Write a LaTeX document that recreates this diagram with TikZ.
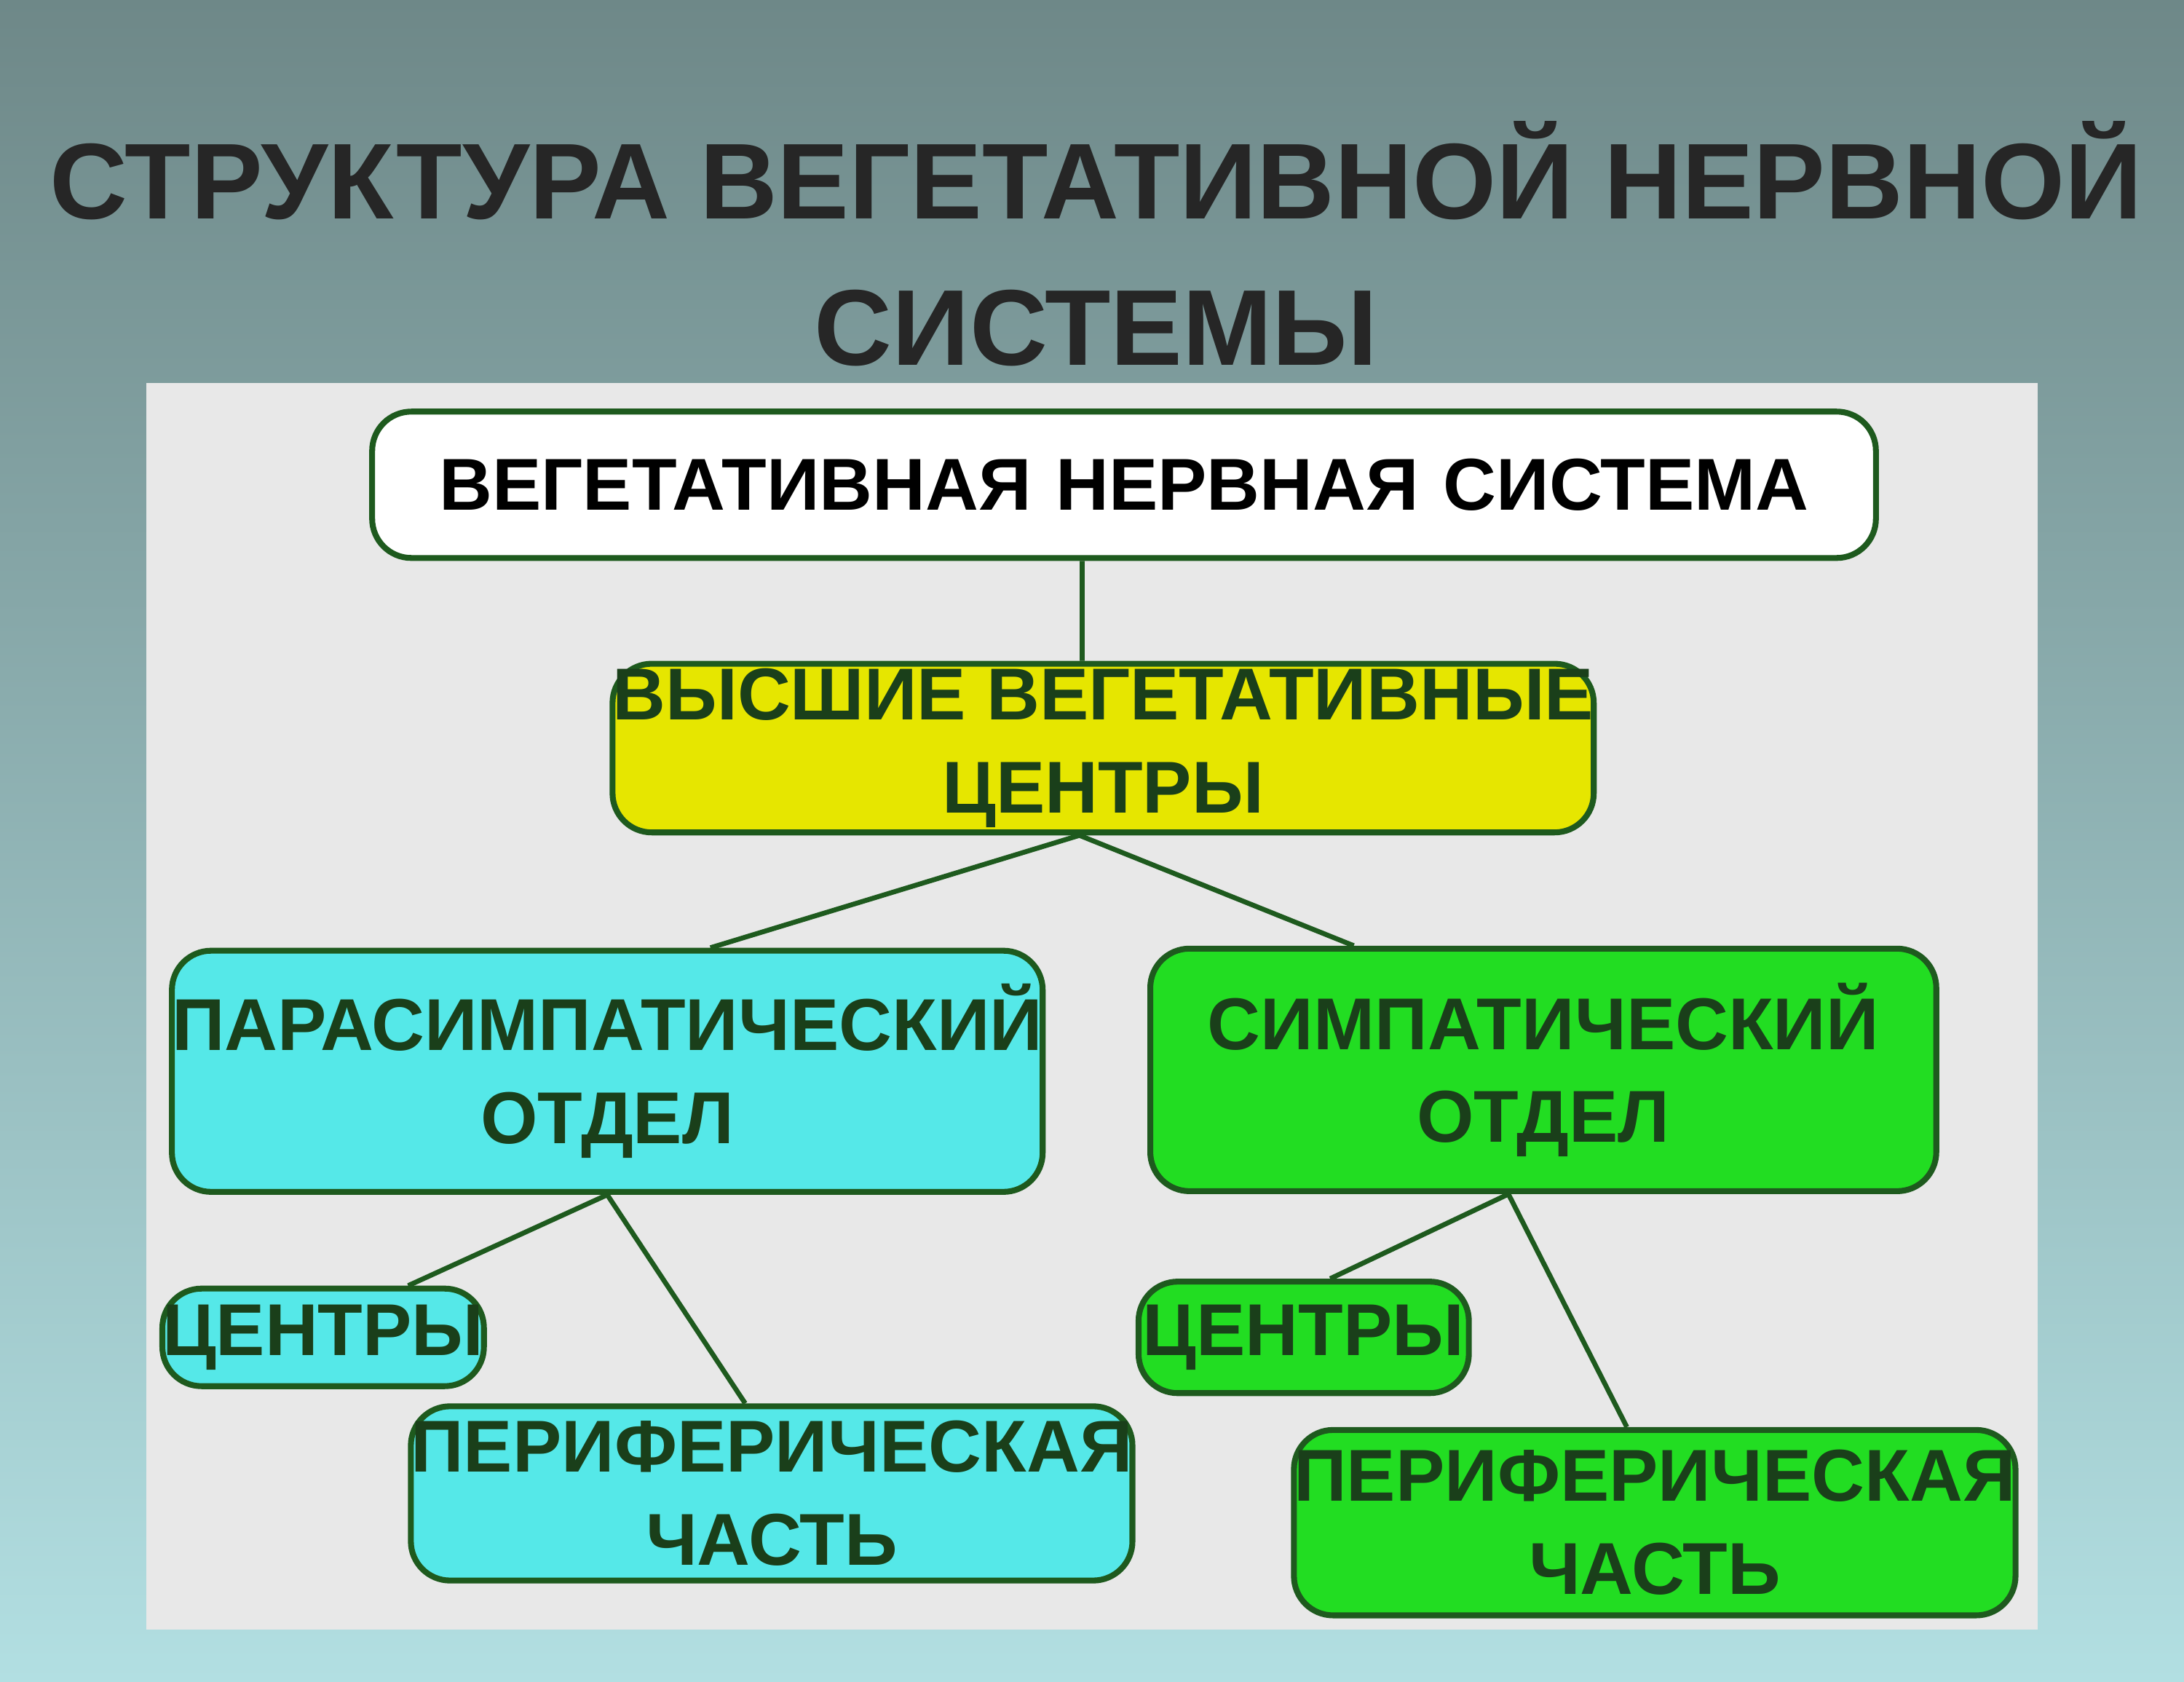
\documentclass[tikz,border=0pt]{standalone}
\usepackage{fontspec}
\setmainfont{Liberation Sans}
\usetikzlibrary{positioning}
\definecolor{bgtop}{HTML}{6E8888}
\definecolor{bgbot}{HTML}{B2DFE2}
\definecolor{panel}{HTML}{E8E8E8}
\definecolor{edge}{HTML}{1E5A1E}
\definecolor{txt}{HTML}{1A3F1A}
\definecolor{yel}{HTML}{E6E600}
\definecolor{cya}{HTML}{55E8E8}
\definecolor{grn}{HTML}{22DD22}
\begin{document}
\begin{tikzpicture}[x=0.01cm,y=-0.01cm,
    mybox/.style={rectangle, rounded corners=8pt, draw=edge, line width=1.2pt, align=center,
      font=\fontsize{15}{19}\selectfont\bfseries, text=txt, inner sep=0pt},
    myline/.style={draw=edge, line width=1pt}]
    \shade[top color=bgtop, bottom color=bgbot] (0,0) rectangle (1568,1207);
    \fill[panel] (105,275) rectangle (1463,1170);
    \node[align=center, font=\fontsize{22}{30}\selectfont\bfseries, text=black!85] (title) at (787,175)
      {СТРУКТУРА ВЕГЕТАТИВНОЙ НЕРВНОЙ\\СИСТЕМЫ};
    \node[mybox, fill=white, text=black, minimum width=1079\pgflinewidth, text width=10.5cm,
      minimum width=10.79cm, minimum height=1.05cm] (vns) at (807,348) {ВЕГЕТАТИВНАЯ НЕРВНАЯ СИСТЕМА};
    \node[mybox, fill=yel, minimum width=6.92cm, minimum height=1.21cm] (high) at (792,537)
      {ВЫСШИЕ ВЕГЕТАТИВНЫЕ\\ЦЕНТРЫ};
    \node[mybox, fill=cya, minimum width=6.17cm, minimum height=1.73cm] (para) at (436,769)
      {ПАРАСИМПАТИЧЕСКИЙ\\ОТДЕЛ};
    \node[mybox, fill=grn, minimum width=5.64cm, minimum height=1.74cm] (sym) at (1108,768)
      {СИМПАТИЧЕСКИЙ\\ОТДЕЛ};
    \node[mybox, fill=cya, minimum width=2.16cm, minimum height=0.70cm] (pcen) at (232,960) {ЦЕНТРЫ};
    \node[mybox, fill=cya, minimum width=4.68cm, minimum height=1.25cm] (pper) at (554,1072)
      {ПЕРИФЕРИЧЕСКАЯ\\ЧАСТЬ};
    \node[mybox, fill=grn, minimum width=2.37cm, minimum height=0.80cm] (scen) at (936,960) {ЦЕНТРЫ};
    \node[mybox, fill=grn, minimum width=5.13cm, minimum height=1.33cm] (sper) at (1188,1093)
      {ПЕРИФЕРИЧЕСКАЯ\\ЧАСТЬ};
    % connectors
    \draw[myline] ([xshift=-0.3cm]vns.south) -- ([xshift=-0.15cm]high.north);
    \draw[myline] ([xshift=-0.17cm]high.south) -- ([xshift=0.74cm]para.north);
    \draw[myline] ([xshift=-0.17cm]high.south) -- ([xshift=-1.36cm]sym.north);
    \draw[myline] (para.south) -- ([xshift=0.61cm]pcen.north);
    \draw[myline] (para.south) -- ([xshift=-0.19cm]pper.north);
    \draw[myline] ([xshift=-0.25cm]sym.south) -- ([xshift=0.19cm]scen.north);
    \draw[myline] ([xshift=-0.25cm]sym.south) -- ([xshift=-0.2cm]sper.north);
\end{tikzpicture}
\end{document}
